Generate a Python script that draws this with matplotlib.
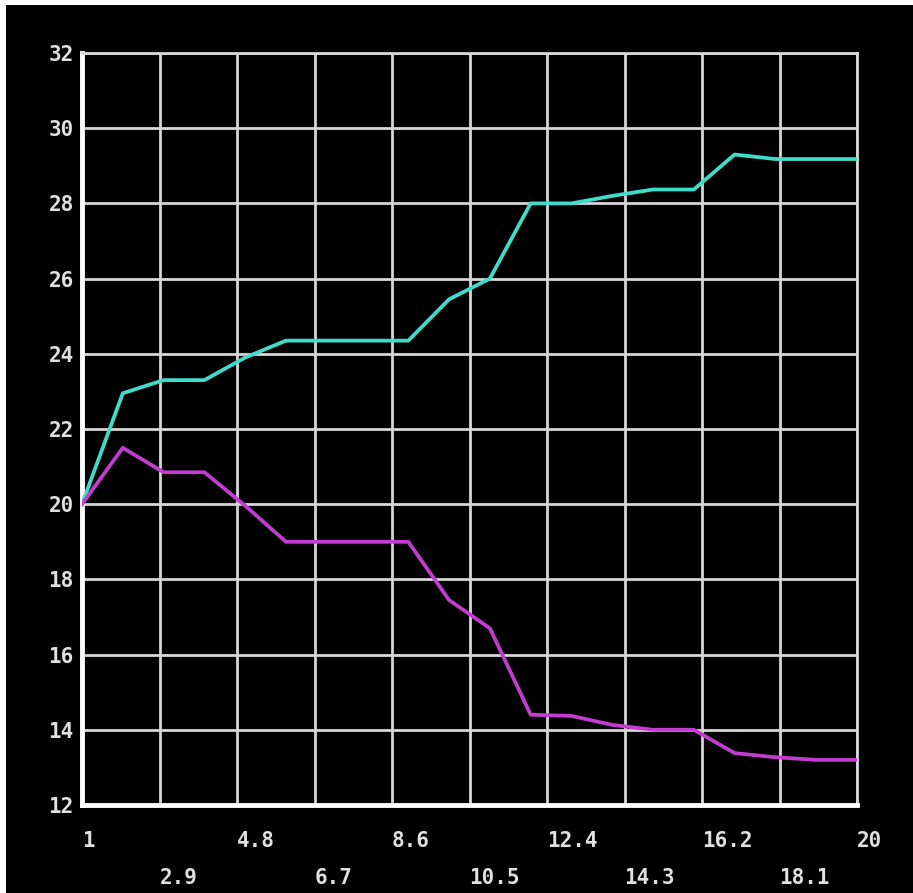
import matplotlib
matplotlib.use("Agg")
import matplotlib.pyplot as plt
from matplotlib.patches import Rectangle
from matplotlib.transforms import ScaledTranslation

# data
x = list(range(1, 21))
cyan = [20.0, 22.95, 23.3, 23.3, 23.9, 24.35, 24.35, 24.35, 24.35, 25.45,
        26.0, 28.0, 28.0, 28.2, 28.37, 28.37, 29.3, 29.18, 29.18, 29.18]
magenta = [20.0, 21.5, 20.85, 20.85, 19.96, 19.0, 19.0, 19.0, 19.0, 17.45,
           16.7, 14.4, 14.37, 14.13, 14.0, 14.0, 13.38, 13.27, 13.2, 13.2]
xticks = [1, 2.9, 4.8, 6.7, 8.6, 10.5, 12.4, 14.3, 16.2, 18.1, 20]
xtick_labels = ['1', '2.9', '4.8', '6.7', '8.6', '10.5', '12.4', '14.3', '16.2', '18.1', '20']
yticks = [12, 14, 16, 18, 20, 22, 24, 26, 28, 30, 32]

fig = plt.figure(figsize=(9.13, 8.93), dpi=100, facecolor='black')
# thin white strips on top and left edge
fig.patches.append(Rectangle((0, 0), 6 / 913, 1, transform=fig.transFigure,
                             facecolor='white', edgecolor='none', zorder=-5))
fig.patches.append(Rectangle((0, 1 - 5 / 893), 1, 5 / 893, transform=fig.transFigure,
                             facecolor='white', edgecolor='none', zorder=-5))

ax = fig.add_axes([82 / 913, 88 / 893, 775 / 913, 752 / 893])
ax.set_facecolor('black')

ax.plot(x, cyan, color='#3fdccc', lw=2.7, zorder=3, solid_joinstyle='round')
ax.plot(x, magenta, color='#c23ccf', lw=2.7, zorder=3, solid_joinstyle='round')

ax.set_xlim(1, 20)
ax.set_ylim(12, 32)
ax.set_xticks(xticks)
ax.set_xticklabels(xtick_labels)
ax.set_yticks(yticks)
ax.grid(True, color='#d6d6d6', lw=2.0, zorder=1)
ax.set_axisbelow(True)

for s in ['top', 'right']:
    ax.spines[s].set_color('#d6d6d6')
    ax.spines[s].set_linewidth(2.0)
for s in ['left', 'bottom']:
    ax.spines[s].set_color('white')
    ax.spines[s].set_linewidth(3.5)

font = matplotlib.font_manager.FontProperties(family='DejaVu Sans Mono', weight='bold', size=15)
ax.tick_params(length=0, colors='#e0e0e0')
for lab in ax.get_xticklabels():
    lab.set_fontproperties(font)
    lab.set_horizontalalignment('left')
for lab in ax.get_yticklabels():
    lab.set_fontproperties(font)
    lab.set_transform(lab.get_transform() + ScaledTranslation(0, 0.05, fig.dpi_scale_trans))

for i, tick in enumerate(ax.xaxis.get_major_ticks()):
    tick.set_pad(19 if i % 2 == 0 else 45)
for tick in ax.yaxis.get_major_ticks():
    tick.set_pad(6)

fig.savefig('out.png', dpi=100, facecolor=fig.get_facecolor())
